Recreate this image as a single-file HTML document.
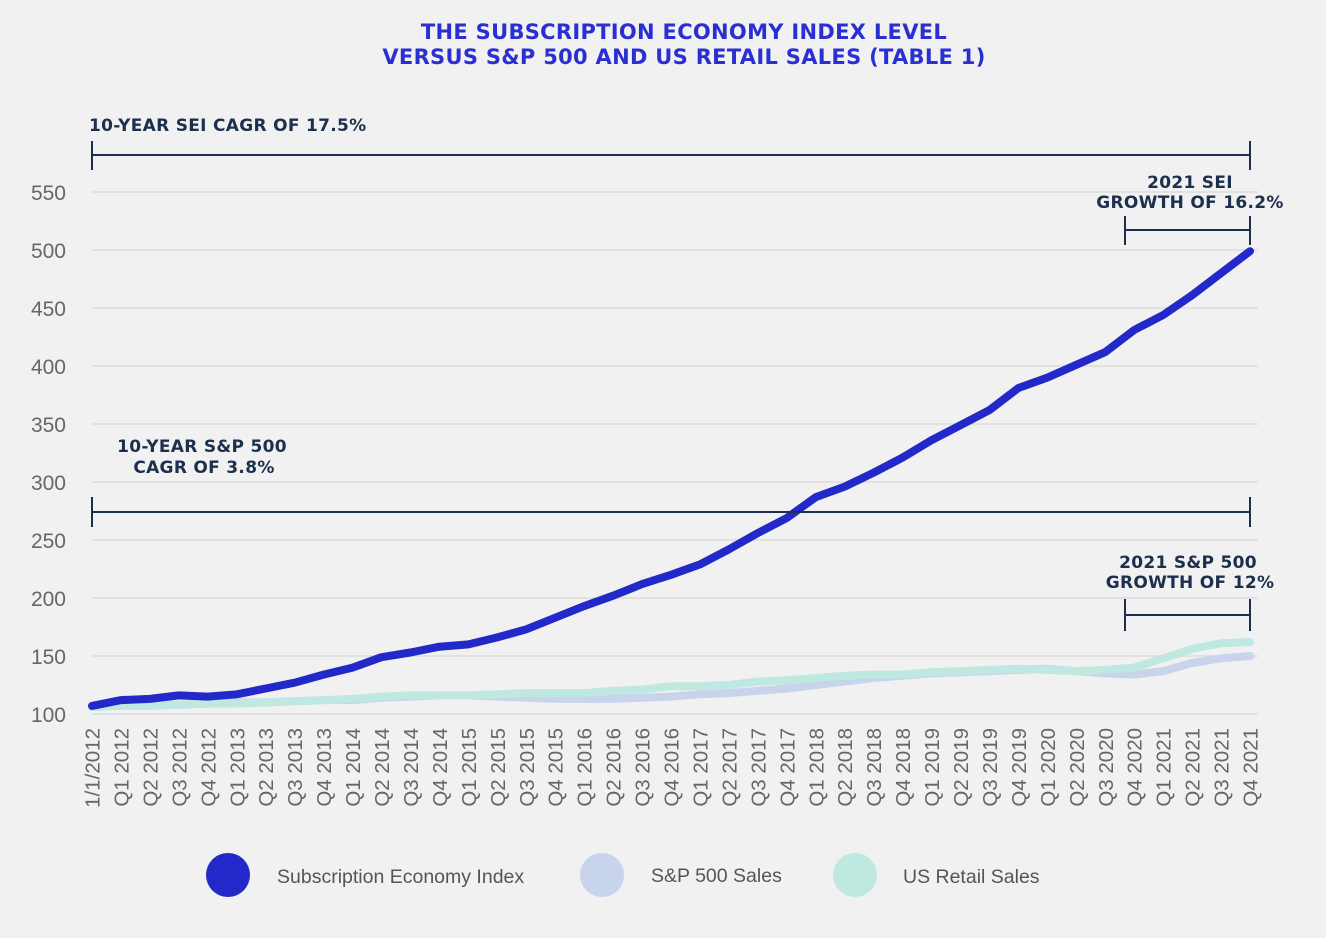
<!DOCTYPE html>
<html><head><meta charset="utf-8"><style>
html,body{margin:0;padding:0;background:#f1f1f1;width:1326px;height:938px;overflow:hidden}
svg{display:block;font-family:"Liberation Sans",sans-serif}
.ann{font-family:"DejaVu Sans","Liberation Sans",sans-serif;font-weight:bold;fill:#1c2f4d;font-size:17px;letter-spacing:0.3px}
.ttl{font-family:"DejaVu Sans","Liberation Sans",sans-serif;font-weight:bold;fill:#2a2fd4;font-size:21px;letter-spacing:0.3px}
</style></head><body>
<svg id="chart" width="1326" height="938">
<text class="ttl" x="684" y="39" text-anchor="middle">THE SUBSCRIPTION ECONOMY INDEX LEVEL</text>
<text class="ttl" x="684" y="64" text-anchor="middle">VERSUS S&amp;P 500 AND US RETAIL SALES (TABLE 1)</text>
<g id="grid"></g>
<g id="yaxis"></g>
<g id="xaxis"></g>
<g id="lines"></g>
<g stroke="#1c2f4d" stroke-width="2">
 <text class="ann" x="89" y="131" stroke="none">10-YEAR SEI CAGR OF 17.5%</text>
 <line x1="92" y1="155" x2="1250" y2="155"/><line x1="92" y1="141" x2="92" y2="170"/><line x1="1250" y1="141" x2="1250" y2="170"/>
 <text class="ann" x="1190" y="188" text-anchor="middle" stroke="none">2021 SEI</text>
 <text class="ann" x="1190" y="208" text-anchor="middle" stroke="none">GROWTH OF 16.2%</text>
 <line x1="1125" y1="230" x2="1250" y2="230"/><line x1="1125" y1="216" x2="1125" y2="245"/><line x1="1250" y1="216" x2="1250" y2="245"/>
 <text class="ann" x="202" y="452" text-anchor="middle" stroke="none">10-YEAR S&amp;P 500</text>
 <text class="ann" x="204" y="473" text-anchor="middle" stroke="none">CAGR OF 3.8%</text>
 <line x1="92" y1="512" x2="1250" y2="512"/><line x1="92" y1="497" x2="92" y2="527"/><line x1="1250" y1="497" x2="1250" y2="527"/>
 <text class="ann" x="1188" y="568" text-anchor="middle" stroke="none">2021 S&amp;P 500</text>
 <text class="ann" x="1190" y="588" text-anchor="middle" stroke="none">GROWTH OF 12%</text>
 <line x1="1125" y1="615" x2="1250" y2="615"/><line x1="1125" y1="599" x2="1125" y2="631"/><line x1="1250" y1="599" x2="1250" y2="631"/>
</g>
<g font-size="19.5" fill="#555">
 <circle cx="228" cy="875" r="22" fill="#2328c8"/>
 <text x="277" y="883">Subscription Economy Index</text>
 <circle cx="602" cy="875" r="22" fill="#c8d4ec"/>
 <text x="651" y="882">S&amp;P 500 Sales</text>
 <circle cx="855" cy="875" r="22" fill="#bfe8e0"/>
 <text x="903" y="883">US Retail Sales</text>
</g>
</svg>
<script>
const yTicks=[100,150,200,250,300,350,400,450,500,550];
const quarters=["1/1/2012"];
for(let y=2012;y<=2021;y++)for(let q=1;q<=4;q++)quarters.push("Q"+q+" "+y);
const seiValues=[107,112,113,116,115,117,122,127,134,140,149,153,158,160,166,173,183,193,202,212,220,229,242,256,269,287,296,308,321,336,349,362,381,390,401,412,431,444,461,480,499];
const spValues=[106,108,108,108,109,110,110,111,112,112,114,115,116,116,115,114,113,113,113,114,115,117,118,120,122,125,128,131,133,135,136,137,138,139,137,135,134,137,144,148,150];
const retailValues=[106,107,107,108,109,109,110,111,112,113,115,116,116,116,117,118,118,118,120,121,124,124,125,128,129,131,133,134,134,136,137,138,139,138,137,138,140,148,156,161,162];
const NS="http://www.w3.org/2000/svg";
const x0=92,x1=1250,yBase=714,pxPer=58/50;
const xs=i=>x0+i*(x1-x0)/(quarters.length-1);
const ys=v=>yBase-(v-100)*pxPer;
function mk(t,a,p){const e=document.createElementNS(NS,t);for(const k in a)e.setAttribute(k,a[k]);p.appendChild(e);return e;}
const grid=document.getElementById('grid'),ya=document.getElementById('yaxis'),xa=document.getElementById('xaxis'),ln=document.getElementById('lines');
yTicks.forEach(v=>{
 const g=mk('line',{x1:92,x2:1258,y1:ys(v),y2:ys(v),stroke:'#dcdcdc','stroke-width':1.5},grid);
 
 
 const t=mk('text',{x:66,y:ys(v)+8,'text-anchor':'end','font-size':21,fill:'#666'},ya);
 t.textContent=v;
 
 
});
quarters.forEach((q,i)=>{
 const t=mk('text',{transform:`translate(${xs(i)+7.5},728) rotate(-90)`,'text-anchor':'end','font-size':20.5,fill:'#666'},xa);
 t.textContent=q;
 
 
});
function series(vals,color,w,name){
 const d=vals.map((v,i)=>(i?'L':'M')+xs(i).toFixed(1)+','+ys(v).toFixed(1)).join('');
 const p=mk('path',{d,fill:'none',stroke:color,'stroke-width':w,'stroke-linejoin':'round','stroke-linecap':'round'},ln);
 
 
}
series(spValues,'#c8d4ec',8,'sp500-line');
series(retailValues,'#bfe8e0',8,'retail-line');
series(seiValues,'#2328c8',8,'sei-line');
</script>
</body></html>
